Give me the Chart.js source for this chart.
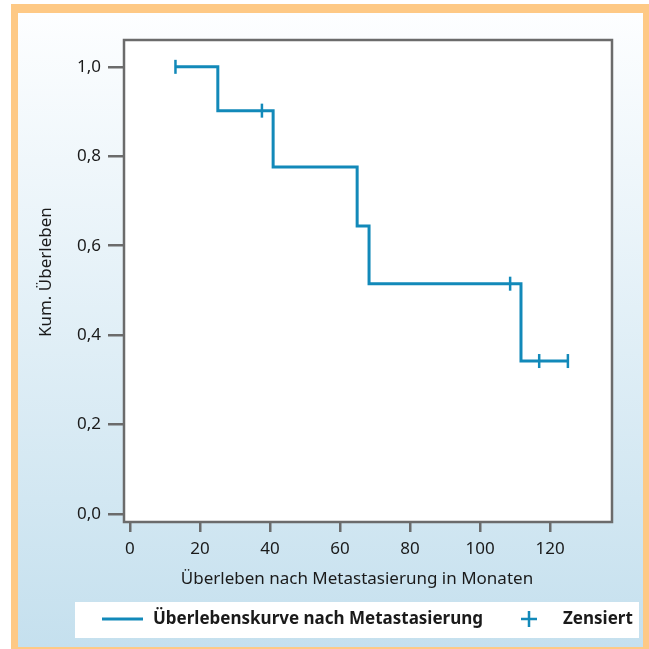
<!DOCTYPE html>
<html>
<head>
<meta charset="utf-8">
<script src="https://cdn.jsdelivr.net/npm/chart.js@4"></script>
<style>
  html, body { margin: 0; padding: 0; background: #fff; }
  canvas { display: block; }
</style>
</head>
<body>
<canvas id="c" width="649" height="649"></canvas>
<script>
// Kaplan-Meier Stufen (Monate, kum. Überleben)
const stepMonths = [13, 25.1, 40.9, 64.9, 68.3, 111.7, 125.1];
const stepSurvival = [1.0, 0.902, 0.776, 0.644, 0.515, 0.342, 0.342];
// zensierte Fälle
const censMonths = [13, 37.7, 108.6, 116.9, 125.1];
const censSurvival = [1.0, 0.902, 0.515, 0.342, 0.342];
const xTicks = [0, 20, 40, 60, 80, 100, 120];
const yTicks = [0, 0.2, 0.4, 0.6, 0.8, 1.0];

const BLUE = "#1289b9";
const GREY = "#6b6b6b";
const FONT = "'Noto Sans', sans-serif";

const framePlugin = {
  id: "frame",
  beforeDraw(chart) {
    const ctx = chart.ctx;
    const a = chart.chartArea;
    ctx.save();
    ctx.fillStyle = "#fff";
    ctx.fillRect(0, 0, chart.width, chart.height);
    ctx.fillStyle = "#fec985";
    ctx.fillRect(11, 4, chart.width - 11, chart.height - 4);
    const g = ctx.createLinearGradient(0, 13, 0, 647);
    g.addColorStop(0, "#fdfeff");
    g.addColorStop(1, "#c5e0ee");
    ctx.fillStyle = g;
    ctx.fillRect(18, 13, 625, 634);
    ctx.fillStyle = "#fff";
    ctx.fillRect(a.left, a.top, a.right - a.left, a.bottom - a.top);
    ctx.restore();
  },
  beforeDatasetsDraw(chart) {
    const ctx = chart.ctx;
    const a = chart.chartArea;
    ctx.save();
    ctx.strokeStyle = GREY;
    ctx.lineWidth = 2.5;
    ctx.strokeRect(a.left, a.top, a.right - a.left, a.bottom - a.top);
    ctx.restore();
  },
  afterDraw(chart) {
    // Legende
    const ctx = chart.ctx;
    ctx.save();
    ctx.fillStyle = "#fff";
    ctx.fillRect(75, 602, 564, 36);
    ctx.strokeStyle = BLUE;
    ctx.lineWidth = 3;
    ctx.beginPath();
    ctx.moveTo(102, 619);
    ctx.lineTo(143, 619);
    ctx.stroke();
    ctx.lineWidth = 2.5;
    ctx.beginPath();
    ctx.moveTo(521, 619);
    ctx.lineTo(537, 619);
    ctx.moveTo(529, 611);
    ctx.lineTo(529, 627);
    ctx.stroke();
    ctx.fillStyle = "#1a1a1a";
    ctx.font = "bold 17px " + FONT;
    ctx.textBaseline = "middle";
    ctx.textAlign = "left";
    ctx.fillText("Überlebenskurve nach Metastasierung", 153, 619);
    ctx.fillText("Zensiert", 563, 619);
    ctx.restore();
  }
};

new Chart(document.getElementById("c"), {
  type: "line",
  data: {
    datasets: [
      {
        label: "Überlebenskurve nach Metastasierung",
        data: stepMonths.map((m, i) => ({ x: m, y: stepSurvival[i] })),
        borderColor: BLUE,
        borderWidth: 3,
        stepped: true,
        pointRadius: 0,
        fill: false
      },
      {
        label: "Zensiert",
        data: censMonths.map((m, i) => ({ x: m, y: censSurvival[i] })),
        showLine: false,
        pointStyle: "line",
        rotation: 90,
        pointRadius: 7,
        borderColor: BLUE,
        borderWidth: 2.5
      }
    ]
  },
  options: {
    responsive: false,
    devicePixelRatio: 1,
    animation: false,
    layout: { padding: { left: 0, top: 40, right: 37, bottom: 54 } },
    plugins: { legend: { display: false }, tooltip: { enabled: false } },
    scales: {
      x: {
        type: "linear",
        min: -1.7,
        max: 137.7,
        afterBuildTicks: (s) => { s.ticks = xTicks.map(v => ({ value: v })); },
        afterFit: (s) => { s.height = 73; },
        border: { display: false },
        grid: { drawOnChartArea: false, tickLength: 10, color: GREY, lineWidth: 2.5 },
        ticks: { padding: 7, color: "#1a1a1a", font: { family: FONT, size: 17 }, maxRotation: 0 },
        title: {
          display: true,
          text: "Überleben nach Metastasierung in Monaten     ",
          color: "#1a1a1a",
          font: { family: FONT, size: 17, lineHeight: 1.2 },
          padding: { top: 0, bottom: 6 }
        }
      },
      y: {
        min: -0.018,
        max: 1.06,
        afterBuildTicks: (s) => { s.ticks = yTicks.map(v => ({ value: v })); },
        afterFit: (s) => { s.width = 124; },
        border: { display: false },
        grid: { drawOnChartArea: false, tickLength: 16, color: GREY, lineWidth: 2.5 },
        ticks: {
          padding: 7,
          color: "#1a1a1a",
          font: { family: FONT, size: 17 },
          callback: (v) => v.toFixed(1).replace(".", ",")
        },
        title: {
          display: true,
          text: "    Kum. Überleben",
          color: "#1a1a1a",
          font: { family: FONT, size: 17, lineHeight: 1.2 },
          padding: { top: 36, bottom: 0 }
        }
      }
    }
  },
  plugins: [framePlugin]
});
</script>
</body>
</html>
